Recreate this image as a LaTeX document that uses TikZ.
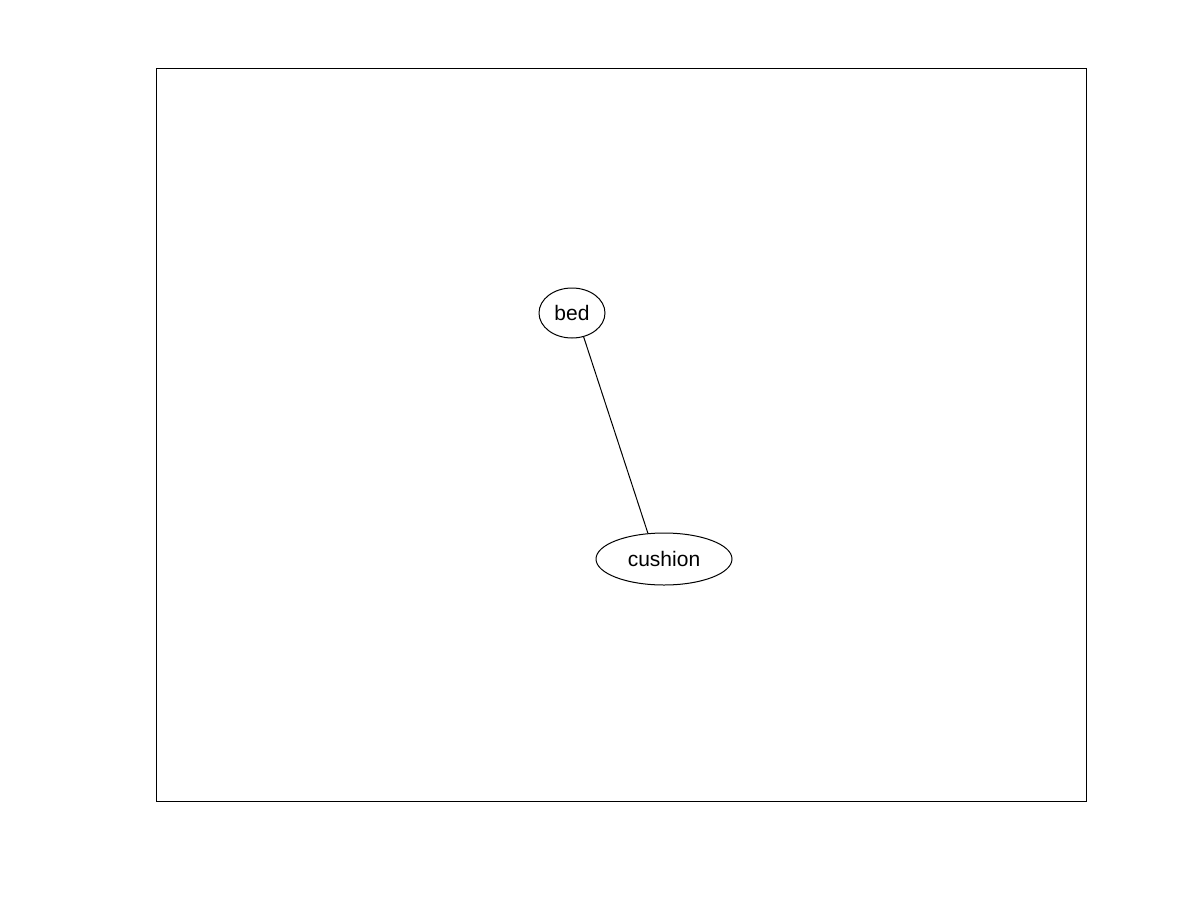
\documentclass[tikz,border=0pt]{standalone}
\usepackage{fontspec}
\setmainfont{Liberation Sans}
\usetikzlibrary{shapes.geometric}
\begin{document}
\begin{tikzpicture}[x=0.5pt,y=-0.5pt,
  nodeell/.style={ellipse,draw,line width=0.5pt,inner sep=0pt,font=\fontsize{10.5pt}{12pt}\selectfont},
  edge/.style={line width=0.5pt}]
\useasboundingbox (0,0) rectangle (1200,900);
\draw[line width=0.5pt] (156,68) rectangle (1086,801);
\node[nodeell,minimum width=33pt,minimum height=25pt] (bed) at (572,313) {bed};
\node[nodeell,minimum width=68pt,minimum height=26pt] (cushion) at (664,559) {cushion};
\draw[edge] (bed.-64) -- (cushion.122);
\end{tikzpicture}
\end{document}
